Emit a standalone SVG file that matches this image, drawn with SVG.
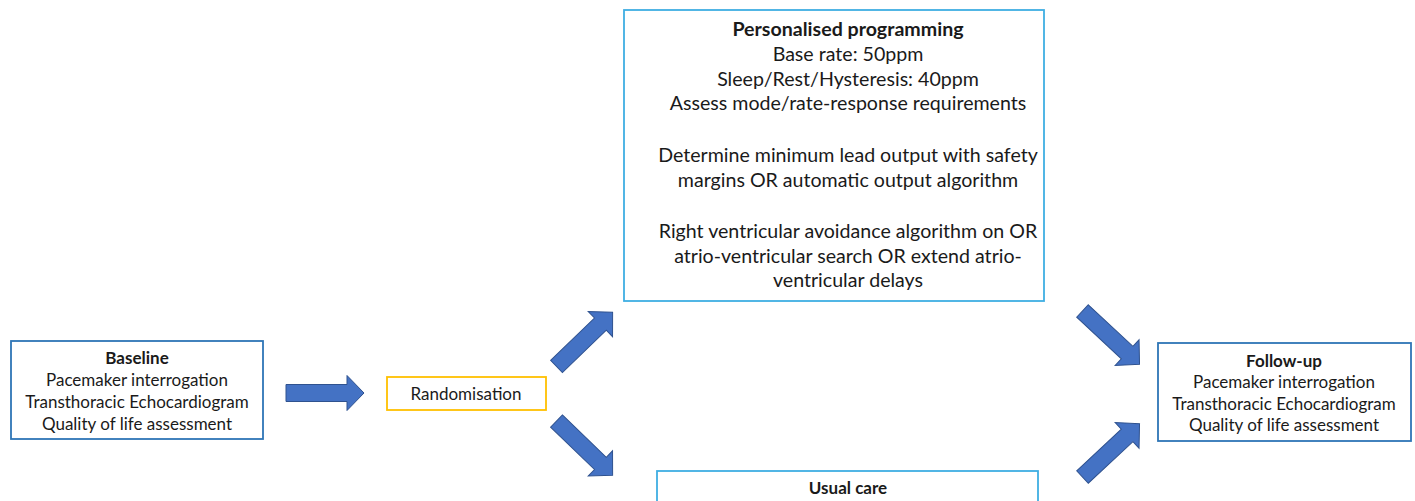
<svg xmlns="http://www.w3.org/2000/svg" width="1415" height="501" viewBox="0 0 1415 501">
<defs>
<style>
.t{font-family:Lato,"Liberation Sans",sans-serif;font-size:17px;fill:#1a1a1a;text-anchor:middle}
.tb{font-weight:bold}
.big{font-size:19.6px}
.box{fill:#fff;stroke-width:1.8}
.dark{stroke:#2E75B6}
.light{stroke:#3FAEE3}
.gold{stroke:#FFC000}
.arr{fill:#4472C4;stroke:#2F528F;stroke-width:1}
</style>
<path id="ar" d="M0,-8.5 L61,-8.5 L61,-17.5 L78,0 L61,17.5 L61,8.5 L0,8.5 Z"/>
</defs>
<rect width="1415" height="501" fill="#fff"/>
<g id="baseline">
<rect class="box dark" x="11" y="341" width="252" height="98"/>
<text class="t tb" x="137" y="364">Baseline</text>
<text class="t" x="137" y="386">Pacemaker interrogation</text>
<text class="t" x="137" y="408">Transthoracic Echocardiogram</text>
<text class="t" x="137" y="430">Quality of life assessment</text>
</g>
<g id="randomisation">
<rect class="box gold" x="387" y="377" width="159" height="33"/>
<text class="t" x="466" y="400">Randomisation</text>
</g>
<g id="personalised">
<rect class="box light" x="624" y="10" width="420" height="291"/>
<text class="t big tb" x="848" y="36">Personalised programming</text>
<text class="t big" x="848" y="61">Base rate: 50ppm</text>
<text class="t big" x="848" y="86">Sleep/Rest/Hysteresis: 40ppm</text>
<text class="t big" x="848" y="110">Assess mode/rate-response requirements</text>
<text class="t big" x="848" y="162">Determine minimum lead output with safety</text>
<text class="t big" x="848" y="187">margins OR automatic output algorithm</text>
<text class="t big" x="848" y="238">Right ventricular avoidance algorithm on OR</text>
<text class="t big" x="848" y="263">atrio-ventricular search OR extend atrio-</text>
<text class="t big" x="848" y="287">ventricular delays</text>
</g>
<g id="usualcare">
<rect class="box light" x="657" y="471" width="381" height="40"/>
<text class="t tb" x="848" y="494">Usual care</text>
</g>
<g id="followup">
<rect class="box dark" x="1158" y="343" width="253" height="98"/>
<text class="t tb" x="1284" y="367">Follow-up</text>
<text class="t" x="1284" y="388">Pacemaker interrogation</text>
<text class="t" x="1284" y="410">Transthoracic Echocardiogram</text>
<text class="t" x="1284" y="431">Quality of life assessment</text>
</g>
<g id="connectors">
<use href="#ar" class="arr" transform="translate(286,393)"/>
<use href="#ar" class="arr" transform="translate(556.5,366.5) rotate(-44)"/>
<use href="#ar" class="arr" transform="translate(556.5,421) rotate(44)"/>
<use href="#ar" class="arr" transform="translate(1082.5,311) rotate(43)"/>
<use href="#ar" class="arr" transform="translate(1082.5,477) rotate(-43)"/>
</g>
</svg>
